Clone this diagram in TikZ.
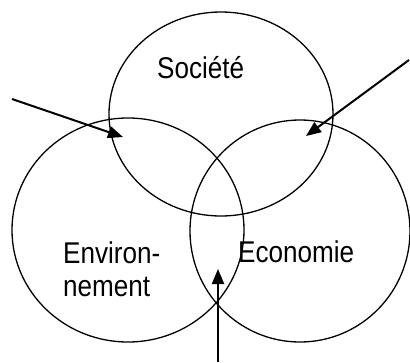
\documentclass[tikz,border=0pt]{standalone}
\usepackage{fontspec}
\setmainfont{Liberation Sans}
\usetikzlibrary{shapes.geometric,arrows.meta}
\begin{document}
\begin{tikzpicture}[x=1pt,y=-1pt,
  circ/.style={draw, ellipse, line width=1.3pt, inner sep=0pt, outer sep=0pt},
  lbl/.style={inner sep=0pt, xscale=0.87, font=\fontsize{30}{33}\selectfont},
  arr/.style={line width=2pt, -{Triangle[length=15pt,width=12pt]}}]
\useasboundingbox (0,0) rectangle (410,362);
\node[circ, minimum width=224pt, minimum height=204pt] (soc) at (221,114) {};
\node[circ, minimum width=232pt, minimum height=224pt] (env) at (128,230) {};
\node[circ, minimum width=220pt, minimum height=222pt] (eco) at (300,231) {};
\node[lbl, anchor=base west] (tsoc) at (157,78) {Société};
\node[lbl, anchor=base west, align=left] (tenv) at (63,296) {Environ-\\nement};
\node[lbl, anchor=base west] (teco) at (238,262) {Economie};
\coordinate (a1s) at (12,99);
\coordinate (a1e) at (123,137);
\coordinate (a2s) at (409,60);
\coordinate (a2e) at (306,136);
\coordinate (a3s) at (218,362);
\coordinate (a3e) at (218,269);
\draw[arr] (a1s) -- (a1e);
\draw[arr] (a2s) -- (a2e);
\draw[arr] (a3s) -- (a3e);
\end{tikzpicture}
\end{document}
